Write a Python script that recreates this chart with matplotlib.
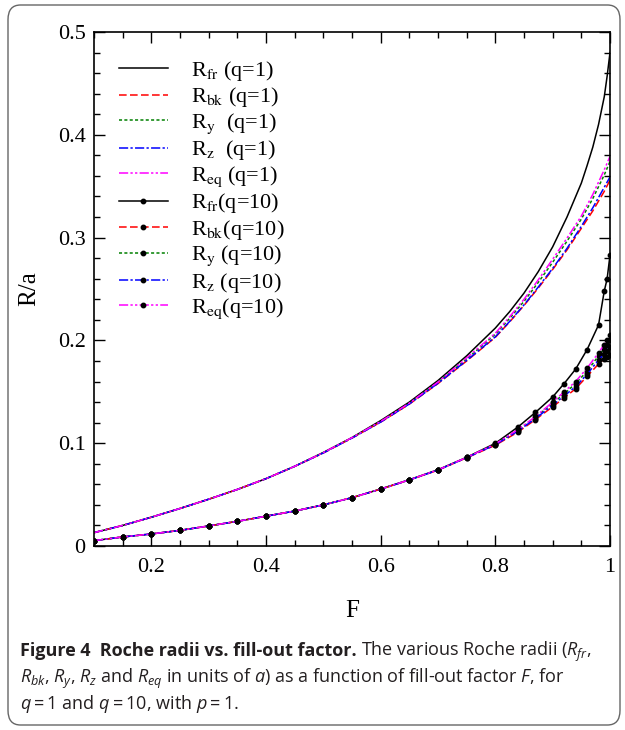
import matplotlib
matplotlib.use("Agg")
import matplotlib.pyplot as plt
from matplotlib.patches import FancyBboxPatch
from matplotlib.ticker import MultipleLocator, FormatStrFormatter

# fill-out factor grids
f_q1 = [0.10, 0.15, 0.20, 0.25, 0.30, 0.35, 0.40, 0.45, 0.50, 0.55, 0.60,
        0.65, 0.70, 0.75, 0.80, 0.825, 0.85, 0.875, 0.90, 0.925, 0.95,
        0.96, 0.97, 0.98, 0.99, 0.995, 1.00]
f_q10 = [0.10, 0.15, 0.20, 0.25, 0.30, 0.35, 0.40, 0.45, 0.50, 0.55, 0.60,
         0.65, 0.70, 0.75, 0.80, 0.84, 0.87, 0.90, 0.92, 0.94, 0.96, 0.98,
         0.99, 0.995, 1.00]

# q = 1 radii
rfr_q1 = [0.013, 0.020, 0.028, 0.0365, 0.0455, 0.055, 0.0655, 0.0775, 0.091, 0.1055, 0.122,
          0.140, 0.161, 0.185, 0.212, 0.228, 0.246, 0.267, 0.291, 0.320, 0.353,
          0.370, 0.388, 0.410, 0.437, 0.457, 0.480]
rbk_q1 = [0.013, 0.020, 0.028, 0.0365, 0.0455, 0.055, 0.0655, 0.0775, 0.0905, 0.105, 0.1205,
          0.138, 0.158, 0.180, 0.203, 0.218, 0.234, 0.251, 0.269, 0.288, 0.309,
          0.3175, 0.326, 0.3355, 0.345, 0.3505, 0.356]
ry_q1 = [0.013, 0.020, 0.028, 0.0365, 0.0455, 0.055, 0.0655, 0.0775, 0.0908, 0.1053, 0.121,
         0.1385, 0.159, 0.182, 0.206, 0.2215, 0.238, 0.2565, 0.276, 0.2965, 0.318,
         0.328, 0.338, 0.3495, 0.361, 0.3675, 0.374]
rz_q1 = [0.013, 0.020, 0.028, 0.0365, 0.0455, 0.055, 0.0655, 0.0775, 0.0905, 0.105, 0.1205,
         0.1382, 0.1583, 0.1805, 0.2035, 0.2185, 0.2345, 0.252, 0.270, 0.2895, 0.311,
         0.320, 0.329, 0.339, 0.349, 0.354, 0.359]
req_q1 = [0.013, 0.020, 0.028, 0.0365, 0.0455, 0.055, 0.0655, 0.0775, 0.0909, 0.1054, 0.1212,
          0.139, 0.1595, 0.183, 0.207, 0.223, 0.240, 0.259, 0.279, 0.2995, 0.321,
          0.3315, 0.342, 0.354, 0.366, 0.3725, 0.379]

# q = 10 radii
rfr_q10 = [0.0052, 0.0088, 0.0117, 0.0152, 0.0195, 0.024, 0.029, 0.034, 0.040, 0.047, 0.0555,
           0.0645, 0.0742, 0.0863, 0.0999, 0.116, 0.130, 0.145, 0.158, 0.172, 0.191, 0.215,
           0.248, 0.260, 0.283]
rbk_q10 = [0.0052, 0.0088, 0.0117, 0.0152, 0.0195, 0.024, 0.029, 0.034, 0.040, 0.047, 0.0553,
           0.0642, 0.0738, 0.0858, 0.098, 0.111, 0.123, 0.1355, 0.144, 0.153, 0.165, 0.177,
           0.182, 0.184, 0.186]
ry_q10 = [0.0052, 0.0088, 0.0117, 0.0152, 0.0195, 0.024, 0.029, 0.034, 0.040, 0.047, 0.0554,
          0.0643, 0.0740, 0.0861, 0.099, 0.113, 0.125, 0.139, 0.148, 0.158, 0.170, 0.185,
          0.192, 0.196, 0.200]
rz_q10 = [0.0052, 0.0088, 0.0117, 0.0152, 0.0195, 0.024, 0.029, 0.034, 0.040, 0.047, 0.0553,
          0.0642, 0.0739, 0.0859, 0.0985, 0.112, 0.124, 0.137, 0.146, 0.155, 0.167, 0.181,
          0.187, 0.190, 0.194]
req_q10 = [0.0052, 0.0088, 0.0117, 0.0152, 0.0195, 0.024, 0.029, 0.034, 0.040, 0.047, 0.0554,
           0.0644, 0.0741, 0.0862, 0.0993, 0.1135, 0.126, 0.140, 0.150, 0.160, 0.173, 0.188,
           0.196, 0.200, 0.205]

plt.rcParams["font.family"] = ["Liberation Serif", "DejaVu Serif"]
plt.rcParams["mathtext.fontset"] = "custom"
plt.rcParams["mathtext.rm"] = "Open Sans"
plt.rcParams["mathtext.it"] = "Open Sans:italic"
plt.rcParams["mathtext.bf"] = "Open Sans:bold"

fig = plt.figure(figsize=(6.25, 7.3), dpi=100)

# rounded frame round the whole figure
frame = FancyBboxPatch((8 / 625, 5 / 730), 612 / 625, 720 / 730,
                       boxstyle="round,pad=0,rounding_size=0.02",
                       transform=fig.transFigure, fill=False,
                       edgecolor="#666666", linewidth=1.0)
fig.patches.append(frame)

ax = fig.add_axes([94 / 625, 1 - 546 / 730, 516 / 625, 514 / 730])

styles = [
    ("black", "-"),
    ("red", (0, (5, 2.2))),
    ("#008000", (0, (2, 1.5))),
    ("blue", (0, (6, 1.5, 1.5, 1.5))),
    ("magenta", (0, (6, 1.5, 1.5, 1.5, 1.5, 1.5))),
]
names = [r"R$_{\rm fr}$", r"R$_{\rm bk}$", r"R$_{\rm y}$", r"R$_{\rm z}$", r"R$_{\rm eq}$"]
q1_labels = [" (q=1)", " (q=1)", "  (q=1)", "  (q=1)", " (q=1)"]
q10_labels = ["(q=10)", "(q=10)", " (q=10)", " (q=10)", "(q=10)"]

q1_series = [rfr_q1, rbk_q1, ry_q1, rz_q1, req_q1]
q10_series = [rfr_q10, rbk_q10, ry_q10, rz_q10, req_q10]

for (c, ls), nm, lab, r in zip(styles, names, q1_labels, q1_series):
    ax.plot(f_q1, r, color=c, linestyle=ls, linewidth=1.1, label=nm + lab)
for (c, ls), nm, lab, r in zip(styles, names, q10_labels, q10_series):
    ax.plot(f_q10, r, color=c, linestyle=ls, linewidth=1.1, marker="o",
            markersize=3.2, markerfacecolor="black", markeredgecolor="black",
            label=nm + lab)

ax.set_xlim(0.1, 1.0)
ax.set_ylim(0, 0.5)
ax.xaxis.set_major_locator(MultipleLocator(0.2))
ax.xaxis.set_minor_locator(MultipleLocator(0.05))
ax.yaxis.set_major_locator(MultipleLocator(0.1))
ax.yaxis.set_minor_locator(MultipleLocator(0.02))
ax.xaxis.set_major_formatter(FormatStrFormatter("%g"))
ax.yaxis.set_major_formatter(FormatStrFormatter("%g"))
ax.tick_params(which="both", direction="in", top=True, right=True, labelsize=16)
ax.tick_params(which="major", length=8, width=1)
ax.tick_params(which="minor", length=4, width=1)
ax.tick_params(axis="x", pad=9)
ax.tick_params(axis="y", pad=6)
for sp in ax.spines.values():
    sp.set_linewidth(1.2)

ax.set_xlabel("F", fontsize=18)
ax.set_ylabel("R/a", fontsize=18)
ax.xaxis.set_label_coords(0.5, -0.105)
ax.yaxis.set_label_coords(-0.105, 0.5)

leg = ax.legend(loc="upper left", bbox_to_anchor=(0.048, 0.947), frameon=False,
                fontsize=16, numpoints=1, handlelength=2.2, handletextpad=1.05,
                labelspacing=0.1, borderpad=0, borderaxespad=0)
for t in leg.get_texts():
    t.set_math_fontfamily("stix")

# caption
cap_kw = dict(fontsize=13, color="#231f20", va="baseline", family="Open Sans")
bold = fig.text(20 / 625, 1 - 656 / 730, "Figure 4  Roche radii vs. fill-out factor.",
                fontweight="bold", **cap_kw)
fig.canvas.draw()
bb = bold.get_window_extent()
fig.text(bb.x1 / 625 + 4 / 625, 1 - 656 / 730,
         r"The various Roche radii ($R_{fr}$,", **cap_kw)
fig.text(20 / 625, 1 - 683 / 730,
         r"$R_{bk}$, $R_y$, $R_z$ and $R_{eq}$ in units of $a$) as a function of fill-out factor $F$, for",
         **cap_kw)
fig.text(20 / 625, 1 - 709 / 730, r"$q = 1$ and $q = 10$, with $p = 1$.", **cap_kw)

fig.savefig("out.png", dpi=100)
